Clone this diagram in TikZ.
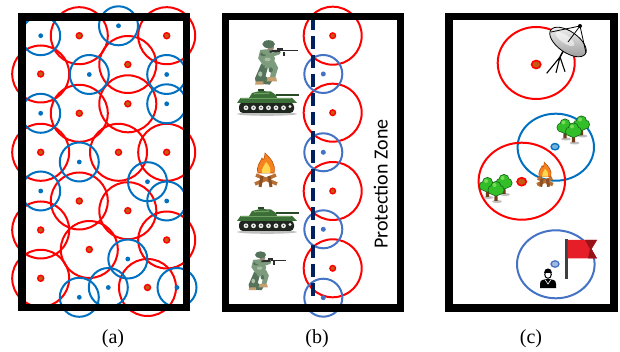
\documentclass[tikz,border=0pt]{standalone}
\usepackage{fontspec}
\setmainfont{Liberation Serif}
\newfontfamily\zonefont{Carlito}
\definecolor{ringred}{RGB}{255,0,0}
\definecolor{ringblue}{RGB}{0,112,192}
\definecolor{softblue}{RGB}{68,114,196}
\definecolor{dotbrown}{RGB}{197,90,17}
\definecolor{dashnavy}{RGB}{0,32,96}
\definecolor{tankgreen}{RGB}{60,110,55}
\definecolor{tankdark}{RGB}{40,75,38}
\definecolor{tanklight}{RGB}{110,160,100}
\definecolor{trackdark}{RGB}{30,38,30}
\definecolor{camo}{RGB}{125,155,125}
\definecolor{camodark}{RGB}{85,115,90}
\definecolor{camolight}{RGB}{170,190,165}
\definecolor{bootcol}{RGB}{196,160,112}
\definecolor{gundark}{RGB}{45,45,45}
\definecolor{skintone}{RGB}{150,140,120}
\definecolor{flameorange}{RGB}{245,130,30}
\definecolor{flamedark}{RGB}{190,80,10}
\definecolor{flameyellow}{RGB}{255,215,80}
\definecolor{logbrown}{RGB}{185,110,50}
\definecolor{logdark}{RGB}{140,80,35}
\definecolor{leafgreen}{RGB}{50,190,40}
\definecolor{leafdark}{RGB}{25,100,25}
\definecolor{leaflight}{RGB}{120,220,90}
\definecolor{trunkbrown}{RGB}{110,60,25}
\definecolor{flagred}{RGB}{230,30,40}
\definecolor{flagdark}{RGB}{150,20,25}

\tikzset{
  panelframe/.style={draw=black, line width=7.5pt},
  redring/.style={draw=ringred, line width=2pt},
  bluering/.style={draw=ringblue, line width=2pt},
  softring/.style={draw=softblue, line width=2pt},
  reddot/.style={fill=dotbrown, draw=ringred, line width=1.4pt},
  bluedot/.style={fill=ringblue},
  softdot/.style={fill=softblue},
  caption/.style={font=\fontsize{20}{24}\selectfont, inner sep=0pt},
  % battle tank, centred on its hull
  tankicon/.pic={
    \fill[black!25] (0,12.5) ellipse (30pt and 1.8pt);
    \fill[trackdark, rounded corners=4pt] (-28,1) rectangle (27,11.5);
    \foreach \w in {-21,-13.5,-6,1.5,9,16.5} {
      \fill[gray!15] (\w,6.3) circle (2.4pt);
      \fill[black!70] (\w,6.3) circle (0.9pt);
    }
    \fill[gray!15] (23,5) circle (1.6pt);
    \fill[tankgreen] (-30,1.5) -- (-26.5,-3.5) -- (25,-3.5) -- (30,1.5) -- cycle;
    \fill[tanklight] (-26,-3.5) rectangle (24,-2.2);
    \fill[tankgreen] (-18,-3.5) -- (-15,-8.5) -- (-7,-10.5) -- (4,-10) -- (9,-6.5) -- (10,-3.5) -- cycle;
    \fill[tankdark] (-9,-12.5) rectangle (-3,-10.2);
    \fill[tankdark] (9,-7.6) rectangle (32,-5.6);
    \fill[tanklight] (-13,-8.3) -- (2,-8.8) -- (2,-7.6) -- (-13,-7.2) -- cycle;
  },
  % kneeling rifleman
  soldiericon/.pic={
    \fill[camodark] (-14,2) -- (-7,3) -- (-10,14) -- (-4,19) -- (-6,22) -- (-19,21) -- (-20,16) -- cycle;
    \fill[camo] (-10,0) -- (-1,0) -- (2,6) -- (-1,16) -- (-6,16) -- (-4,7) -- (-11,6) -- cycle;
    \fill[bootcol] (-8,15) -- (0,15) -- (1,19) -- (-9,19) -- cycle;
    \fill[bootcol] (-19,19) -- (-12,19) -- (-12,22) -- (-20,22) -- cycle;
    \fill[camo] (-15,-11) -- (-5,-12) -- (-1,-3) -- (-2,2) -- (-12,4) -- (-17,-3) -- cycle;
    \fill[camodark] (-12,-7) ellipse (3pt and 2pt);
    \fill[camolight] (-8,-2) ellipse (3pt and 1.8pt);
    \fill[camodark] (-5,8) ellipse (2pt and 2.5pt);
    \fill[camolight] (-15,12) ellipse (2pt and 2.5pt);
    \draw[camo, line width=3.5pt, line cap=round] (-12,-9) -- (-4,-6) -- (3,-8.5);
    \fill[gundark] (-6,-11) -- (4,-11) -- (4,-9) -- (-6,-8.5) -- cycle;
    \draw[gundark, line width=1.2pt] (4,-10.3) -- (21,-10.3);
    \fill[gundark] (7,-9.5) rectangle (8.8,-5.5);
    \fill[gundark] (1,-13) rectangle (7,-11.3);
    \fill[skintone] (-5,-13.5) circle (3.2pt);
    \fill[camodark] (-7,-16.5) ellipse (6pt and 3.8pt);
  },
  % campfire
  fireicon/.pic={
    \draw[logbrown, line width=3.5pt] (-11,14) -- (10,5);
    \draw[logbrown, line width=3.5pt] (-10,5) -- (11,14);
    \draw[logdark, line width=3pt] (-4,6) -- (-6,17);
    \draw[logdark, line width=3pt] (3,6) -- (5,17);
    \filldraw[fill=flameorange, draw=flamedark, line width=0.6pt]
      (-1,-17) .. controls (5,-11) and (10,-6) .. (8,3) -- (-8,3)
      .. controls (-10,-4) and (-6,-7) .. (-4,-12)
      .. controls (-3,-9) and (-1.5,-10) .. (-1,-17) -- cycle;
    \fill[flameyellow] (0,-8) .. controls (4,-4) and (5,-1) .. (4,3) -- (-4,3)
      .. controls (-5,-1) and (-2,-4) .. (0,-8) -- cycle;
  },
  % single leafy tree, crown centred on the origin
  treeicon/.pic={
    \fill[black!25] (1,12) ellipse (5pt and 1.5pt);
    \fill[trunkbrown] (-1.3,3) -- (1.3,3) -- (1.7,11.5) -- (-1.7,11.5) -- cycle;
    \fill[leafdark] (-3.5,0.5) circle (5pt) (3.5,0.5) circle (5pt) (0,-3) circle (5.5pt) (0,2) circle (5pt);
    \fill[leafgreen] (-3.5,0.5) circle (4.2pt) (3.5,0.5) circle (4.2pt) (0,-3) circle (4.7pt) (0,2) circle (4.2pt);
    \fill[leaflight] (-1.5,-4.5) circle (2pt);
  },
  groveicon/.pic={
    \pic at (8,-8) {treeicon};
    \pic at (-8.5,-5) {treeicon};
    \pic at (0,-1) {treeicon};
  },
}

\begin{document}
\begin{tikzpicture}[x=1pt, y=-1pt]
\useasboundingbox (0,0) rectangle (620,352);

% ---------------- panel (a): dense coverage ----------------
\foreach \cx/\cy in {79.3/35.7,166.7/35.7,40.7/74,127.8/64.5,79.3/113.3,127.8/103.8,
  40.7/152.3,118.5/152.3,166.7/152.3,79.3/201,127.8/210.7,40.7/230,89.3/249.5,
  166.7/240,40.7/278.3,147.5/287.5}
  \draw[redring] (\cx,\cy) circle (28.5pt);
\foreach \cx/\cy in {40.7/35.7,118.5/25.8,89.3/74.5,166.7/74.5,40.7/113.3,166.7/103.8,
  79.3/162,40.7/191,147.5/181.7,166.7/201,127.8/259,79.3/297.3,108.3/287.5,177/287.5}
  \draw[bluering] (\cx,\cy) circle (19.5pt);
\foreach \cx/\cy in {79.3/35.7,166.7/35.7,40.7/74,127.8/64.5,79.3/113.3,127.8/103.8,
  40.7/152.3,118.5/152.3,166.7/152.3,79.3/201,127.8/210.7,40.7/230,89.3/249.5,
  166.7/240,40.7/278.3,147.5/287.5}
  \filldraw[reddot] (\cx,\cy) circle (3pt);
\foreach \cx/\cy in {40.7/35.7,118.5/25.8,89.3/74.5,166.7/74.5,40.7/113.3,166.7/103.8,
  79.3/162,40.7/191,147.5/181.7,166.7/201,127.8/259,79.3/297.3,108.3/287.5,177/287.5}
  \fill[bluedot] (\cx,\cy) circle (2.4pt);
\draw[panelframe] (22,17) rectangle (186.5,307.5);
\node[caption] (capA) at (113,339) {(a)};

% ---------------- panel (b): protection zone ----------------
\foreach \cy in {35.7,112.7,191,268.3} {
  \draw[redring] (332.7,\cy) circle (29pt);
  \filldraw[reddot] (332.7,\cy) circle (2.8pt);
}
\foreach \cy in {74,152.3,229.3,297.7} {
  \draw[softring] (323.3,\cy) circle (19pt);
  \fill[softdot] (323.3,\cy) circle (2.5pt);
}
\coordinate (zoneTop) at (313.3,17);
\coordinate (zoneEnd) at (313.3,298);
\draw[dashnavy, line width=4pt, dash pattern=on 13pt off 6pt] (zoneTop) -- (zoneEnd);
\draw[panelframe] (225.5,16.7) rectangle (400.5,308);
\pic[scale=1.05] at (276,61.5) {soldiericon};
\pic at (267,101.5) {tankicon};
\pic at (266,170) {fireicon};
\pic at (267,219.5) {tankicon};
\pic[scale=0.92] at (267,270) {soldiericon};
\node[font=\zonefont\fontsize{20}{24}\selectfont, rotate=90, inner sep=0pt] (zone) at (380.7,184) {Protection Zone};
\node[caption] (capB) at (317,339) {(b)};

% ---------------- panel (c): sparse, terrain-aware placement ----------------
\draw[redring] (536.2,63) ellipse (38.5pt and 36pt);
\draw[bluering] (555.8,147.2) ellipse (38.2pt and 33.5pt);
\draw[redring] (521.8,181.2) ellipse (43.2pt and 38.5pt);
\draw[softring] (555.8,264.3) ellipse (38.8pt and 34pt);
\filldraw[fill=dotbrown, draw=ringred, line width=1.6pt] (536.2,64.5) ellipse (4.6pt and 4pt);
\filldraw[fill=dotbrown, draw=ringred, line width=1.6pt] (521.7,181.7) ellipse (4.6pt and 4pt);
\filldraw[fill=ringblue!55!white, draw=ringblue, line width=1.3pt] (555,146.7) ellipse (4pt and 3.2pt);
\filldraw[fill=softblue!50!white, draw=softblue, line width=1.3pt] (555,264) ellipse (4pt and 3.2pt);

% satellite dish on a tripod
\draw[black, line width=1.1pt] (560,57) -- (546.7,73.3) (560,57) -- (556,72.7) (560,57) -- (565,71.7);
\draw[black, line width=1.5pt] (560,57) -- (566,46);
\shade[top color=gray!10, bottom color=gray!80, draw=black, line width=0.8pt,
  rotate around={-35:(568,42)}] (568,42) ellipse (21pt and 10.5pt);
\fill[white, opacity=0.55, rotate around={-35:(565,39)}] (565,39) ellipse (11pt and 4pt);
\draw[black, line width=0.8pt] (551,32) -- (580,26) -- (586,53) (568,42) -- (580,26);
\fill[black] (580,26) circle (2pt);

% trees, campfire, flag and operator
\pic at (573.5,132) {groveicon};
\pic at (496,190.5) {groveicon};
\pic[scale=0.72] at (545,174.5) {fireicon};
\draw[black!75, line width=2.2pt] (566.5,239.5) -- (566.5,279);
\fill[flagred] (567.5,240) -- (597,240) -- (591.5,249) -- (597,258.5) -- (567.5,258.5) -- cycle;
\fill[flagdark] (585,240) -- (597,240) -- (591.5,249) -- (597,258.5) -- (588,258.5) -- (590,249) -- cycle;
\fill[black] (540,288) -- (540,284) .. controls (540,280) and (543,279.5) .. (546,279)
  -- (550,279) .. controls (553,279.5) and (556,280) .. (556,284) -- (556,288) -- cycle;
\draw[white, line width=0.6pt] (545,279.5) -- (548,284) -- (551,279.5);
\filldraw[fill=white, draw=black, line width=1pt] (548,274.5) ellipse (3.3pt and 3.8pt);
\fill[black] (543.8,273) .. controls (543.8,266.5) and (552.2,266.5) .. (552.2,273) -- cycle;
\draw[panelframe] (449,16.7) rectangle (614,308);
\node[caption] (capC) at (531,339) {(c)};
\end{tikzpicture}
\end{document}
